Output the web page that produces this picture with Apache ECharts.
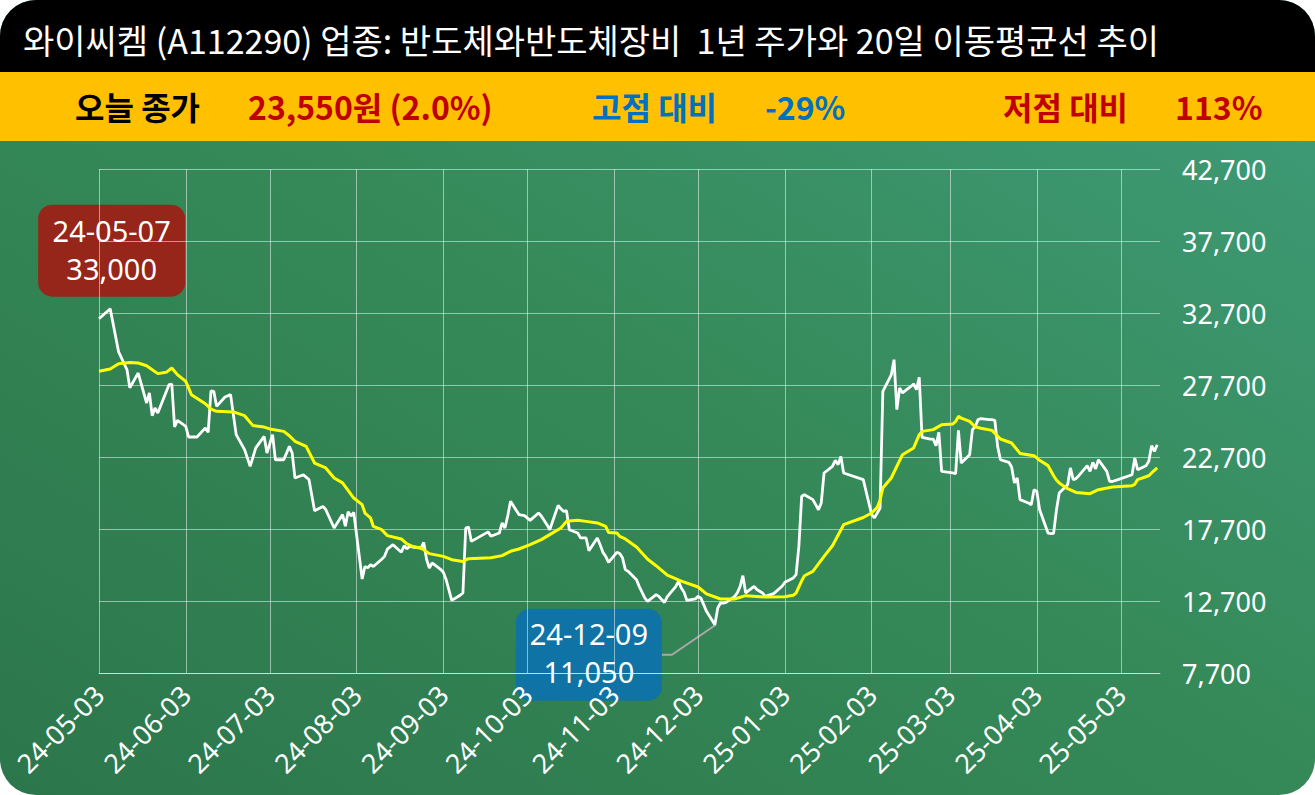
<!DOCTYPE html>
<html>
<head>
<meta charset="utf-8">
<script src="https://cdn.jsdelivr.net/npm/echarts@6/dist/echarts.min.js"></script>
<style>
html,body{margin:0;padding:0;background:#ffffff;}
#card{position:absolute;left:0;top:0;width:1315px;height:795px;border-radius:36px;overflow:hidden;
  background:linear-gradient(to top right,#2c764c 0%,#358958 50%,#3f9d7a 100%);}
#c{width:1315px;height:795px;}
</style>
</head>
<body>
<div id="card"><div id="c"></div></div>
<script>
// ---------------- DATA ----------------
const titleText = '와이씨켐 (A112290) 업종: 반도체와반도체장비  1년 주가와 20일 이동평균선 추이';
const headerLabels = ['오늘 종가', '23,550원 (2.0%)', '고점 대비', '-29%', '저점 대비', '113%'];

const tickDates = ['2024-05-03','2024-06-03','2024-07-03','2024-08-03','2024-09-03','2024-10-03','2024-11-03',
  '2024-12-03','2025-01-03','2025-02-03','2025-03-03','2025-04-03','2025-05-03'];
const tickLabels = ['24-05-03','24-06-03','24-07-03','24-08-03','24-09-03','24-10-03','24-11-03',
  '24-12-03','25-01-03','25-02-03','25-03-03','25-04-03','25-05-03'];
const axisStart = '2024-05-03';
const axisEnd = '2025-05-17';
const yMin = 7700, yMax = 42700, yStep = 5000;

const priceDates = [
'2024-05-03','2024-05-07','2024-05-10','2024-05-13','2024-05-14','2024-05-17','2024-05-20','2024-05-21','2024-05-22','2024-05-23',
'2024-05-24','2024-05-28','2024-05-29','2024-05-30','2024-05-31','2024-06-03','2024-06-04','2024-06-07','2024-06-10','2024-06-11',
'2024-06-12','2024-06-13','2024-06-14','2024-06-17','2024-06-19','2024-06-21','2024-06-24','2024-06-26','2024-06-28','2024-07-01',
'2024-07-02','2024-07-04','2024-07-05','2024-07-08','2024-07-10','2024-07-11','2024-07-12','2024-07-15','2024-07-17','2024-07-19',
'2024-07-22','2024-07-23','2024-07-26','2024-07-29','2024-07-30','2024-07-31','2024-08-01','2024-08-02','2024-08-05','2024-08-06',
'2024-08-07','2024-08-08','2024-08-09','2024-08-12','2024-08-13','2024-08-14','2024-08-16','2024-08-19','2024-08-20','2024-08-21',
'2024-08-22','2024-08-23','2024-08-26','2024-08-27','2024-08-28','2024-08-29','2024-08-30','2024-09-02','2024-09-03','2024-09-04',
'2024-09-06','2024-09-09','2024-09-10','2024-09-11','2024-09-12','2024-09-13','2024-09-19','2024-09-20','2024-09-23','2024-09-24',
'2024-09-25','2024-09-26','2024-09-27','2024-09-30','2024-10-02','2024-10-04','2024-10-07','2024-10-08','2024-10-10','2024-10-11',
'2024-10-14','2024-10-15','2024-10-16','2024-10-17','2024-10-18','2024-10-21','2024-10-22','2024-10-23','2024-10-24','2024-10-25',
'2024-10-28','2024-10-29','2024-10-30','2024-10-31','2024-11-01','2024-11-04','2024-11-05','2024-11-06','2024-11-07','2024-11-08',
'2024-11-11','2024-11-12','2024-11-13','2024-11-14','2024-11-15','2024-11-18','2024-11-19','2024-11-20','2024-11-21','2024-11-22',
'2024-11-25','2024-11-26','2024-11-27','2024-11-28','2024-11-29','2024-12-02','2024-12-03','2024-12-04','2024-12-05','2024-12-06',
'2024-12-09','2024-12-10','2024-12-11','2024-12-12','2024-12-13','2024-12-16','2024-12-17','2024-12-18','2024-12-19','2024-12-20',
'2024-12-23','2024-12-24','2024-12-26','2024-12-27','2024-12-30','2025-01-02','2025-01-03','2025-01-06','2025-01-07','2025-01-08',
'2025-01-09','2025-01-10','2025-01-13','2025-01-14','2025-01-15','2025-01-16','2025-01-17','2025-01-20','2025-01-21','2025-01-22',
'2025-01-23','2025-01-24','2025-01-31','2025-02-03','2025-02-04','2025-02-05','2025-02-06','2025-02-07','2025-02-10','2025-02-11',
'2025-02-12','2025-02-13','2025-02-14','2025-02-17','2025-02-18','2025-02-19','2025-02-20','2025-02-21','2025-02-24','2025-02-25',
'2025-02-26','2025-02-27','2025-02-28','2025-03-04','2025-03-05','2025-03-06','2025-03-07','2025-03-10','2025-03-11','2025-03-12',
'2025-03-13','2025-03-14','2025-03-17','2025-03-18','2025-03-19','2025-03-20','2025-03-21','2025-03-24','2025-03-25','2025-03-26',
'2025-03-27','2025-03-28','2025-03-31','2025-04-01','2025-04-02','2025-04-03','2025-04-04','2025-04-07','2025-04-08','2025-04-09',
'2025-04-10','2025-04-11','2025-04-14','2025-04-15','2025-04-16','2025-04-17','2025-04-18','2025-04-21','2025-04-22','2025-04-23',
'2025-04-24','2025-04-25','2025-04-28','2025-04-29','2025-04-30','2025-05-02','2025-05-07','2025-05-08','2025-05-09','2025-05-12',
'2025-05-13','2025-05-14','2025-05-15','2025-05-16'];
const priceValues = [
32300,33000,30000,28760,27500,28530,26450,27150,25570,26100,
25760,27720,27770,24790,25240,24830,24090,24090,24720,24410,
27300,27260,26220,26870,27030,24250,23210,22050,23330,24130,
22980,24250,22510,22510,23440,22980,21240,21470,21130,18970,
19270,19040,17770,18700,17900,18900,18600,18850,14230,15100,
15000,15220,15100,15600,15800,16300,16610,16080,16540,16330,
16490,16450,16380,16770,15600,14990,15340,14900,14700,14180,
12740,13100,13260,17770,17840,16840,17500,17200,17420,18120,
17770,18600,19620,18700,18630,18300,18810,18600,18000,17650,
19340,19100,18920,18970,17650,17420,17080,17080,17080,16190,
17080,16600,16080,15800,15380,16080,16000,15700,14880,14760,
14180,13700,13300,12900,12670,13140,13020,12800,12600,13000,
13700,14060,13600,13300,12740,12840,13020,12900,12450,11980,
11050,12200,12560,12560,12600,13000,13260,13700,14460,13260,
13720,13500,13260,13020,13210,13720,14000,14300,14530,16490,
19970,20080,19740,19390,19040,19510,21590,22050,22470,22170,
22740,21590,21130,18700,18470,18810,19160,27260,28400,29460,
25990,27490,27150,27600,27770,27380,28230,24060,23940,23940,
23480,24410,21700,21590,21540,24550,22280,22860,24600,24800,
25300,25360,25300,25290,25250,23440,22510,22330,22000,20900,
21240,19740,19500,19390,20430,20310,19040,17420,17380,17400,
19000,20200,20780,21940,21130,21200,21400,22100,21700,22330,
21870,22510,21700,21010,21000,21130,21470,22630,21820,22100,
22400,23490,23090,23550];

const maDates = [
'2024-05-03','2024-05-07','2024-05-10','2024-05-14','2024-05-17','2024-05-20','2024-05-24','2024-05-27','2024-05-29','2024-05-31',
'2024-06-03','2024-06-05','2024-06-10','2024-06-12','2024-06-14','2024-06-20','2024-06-24','2024-06-27','2024-07-01','2024-07-03',
'2024-07-08','2024-07-10','2024-07-12','2024-07-16','2024-07-19','2024-07-23','2024-07-26','2024-07-29','2024-08-02','2024-08-05',
'2024-08-06','2024-08-08','2024-08-09','2024-08-12','2024-08-14','2024-08-19','2024-08-21','2024-08-23','2024-08-26','2024-08-29',
'2024-09-03','2024-09-06','2024-09-10','2024-09-12','2024-09-20','2024-09-24','2024-09-27','2024-09-30','2024-10-04','2024-10-08',
'2024-10-11','2024-10-15','2024-10-17','2024-10-21','2024-10-24','2024-10-28','2024-10-31','2024-11-01','2024-11-04','2024-11-05',
'2024-11-07','2024-11-11','2024-11-15','2024-11-18','2024-11-22','2024-11-27','2024-12-03','2024-12-06','2024-12-11','2024-12-16',
'2024-12-20','2024-12-27','2025-01-03','2025-01-06','2025-01-07','2025-01-09','2025-01-10','2025-01-13','2025-01-17','2025-01-20',
'2025-01-24','2025-01-31','2025-02-03','2025-02-05','2025-02-06','2025-02-07','2025-02-10','2025-02-14','2025-02-18','2025-02-20',
'2025-02-21','2025-02-25','2025-02-28','2025-03-04','2025-03-05','2025-03-06','2025-03-07','2025-03-10','2025-03-12','2025-03-14',
'2025-03-18','2025-03-21','2025-03-25','2025-03-28','2025-04-02','2025-04-04','2025-04-07','2025-04-09','2025-04-10','2025-04-11',
'2025-04-14','2025-04-17','2025-04-22','2025-04-25','2025-04-30','2025-05-07','2025-05-08','2025-05-09','2025-05-13','2025-05-14',
'2025-05-16'];
const maValues = [
28650,28810,29180,29270,29230,29040,28490,28580,28880,28420,
27950,27030,26400,26030,25870,25830,25570,24880,24780,24650,
24480,24180,23790,23440,22280,21940,21240,20900,19850,19390,
18810,18470,17880,17650,17240,17010,16660,16490,16380,15990,
15800,15570,15450,15640,15710,15850,16150,16310,16610,16960,
17310,17770,18230,18300,18230,18120,17880,17460,17420,17190,
17010,16450,15600,15150,14500,14080,13670,13200,12840,12840,
13070,12980,13000,13100,13250,14100,14450,14760,15800,16540,
18000,18500,18810,19200,19700,20550,21240,22860,23330,24250,
24480,24600,24940,24990,25170,25520,25400,25170,24790,24700,
24550,23950,23670,22950,22790,22470,22100,21400,21100,20900,
20500,20240,20150,20430,20620,20710,20800,21130,21400,21590,
21940];

const highPoint = { date: '2024-05-07', value: 33000 };
const lowPoint = { date: '2024-12-09', value: 11050 };

// ---------------- CHART ----------------
const KR = "'Noto Sans CJK KR', 'Noto Sans', sans-serif";
const NUM = "'Noto Sans', 'DejaVu Sans', sans-serif";
const GRID_COLOR = 'rgba(255,255,255,0.5)';

function ts(s) { const p = s.split('-').map(Number); return Date.UTC(p[0], p[1] - 1, p[2]); }
function fmtNum(v) { return String(Math.round(v)).replace(/\B(?=(\d{3})+(?!\d))/g, ','); }
const tickTs = tickDates.map(ts);

const chart = echarts.init(document.getElementById('c'), null, { renderer: 'svg' });

chart.setOption({
  animation: false,
  backgroundColor: 'transparent',
  grid: { left: 99, right: 155, top: 169, bottom: 122 },
  xAxis: {
    type: 'value',
    z: 2,
    min: ts(axisStart),
    max: ts(axisEnd),
    axisLine: { show: true, lineStyle: { color: GRID_COLOR, width: 1 } },
    axisTick: { show: false, customValues: tickTs },
    axisLabel: {
      customValues: tickTs,
      showMinLabel: true,
      showMaxLabel: true,
      hideOverlap: false,
      rotate: 45,
      margin: 17,
      color: '#ffffff',
      fontFamily: NUM,
      fontSize: 27,
      formatter: function (v) {
        let best = 0, bd = Infinity;
        tickTs.forEach(function (t, i) { const d = Math.abs(t - v); if (d < bd) { bd = d; best = i; } });
        return tickLabels[best];
      }
    },
    splitLine: { show: true, lineStyle: { color: GRID_COLOR, width: 1 } }
  },
  yAxis: {
    type: 'value',
    z: 2,
    position: 'right',
    min: yMin,
    max: yMax,
    interval: yStep,
    axisLine: { show: false },
    axisTick: { show: false },
    axisLabel: { color: '#ffffff', fontFamily: NUM, fontSize: 27, margin: 22, formatter: fmtNum },
    splitLine: { show: true, lineStyle: { color: GRID_COLOR, width: 1 } }
  },
  series: [
    {
      name: '주가', type: 'line', symbol: 'none', z: 3,
      lineStyle: { color: '#ffffff', width: 2.8 },
      data: priceDates.map(function (d, i) { return [ts(d), priceValues[i]]; })
    },
    {
      name: '20일 이동평균', type: 'line', symbol: 'none', z: 4,
      lineStyle: { color: '#ffff00', width: 3 },
      data: maDates.map(function (d, i) { return [ts(d), maValues[i]]; })
    }
  ]
});

// ---------- header / annotations ----------
const hp = chart.convertToPixel({ gridIndex: 0 }, [ts(highPoint.date), highPoint.value]);
const lp = chart.convertToPixel({ gridIndex: 0 }, [ts(lowPoint.date), lowPoint.value]);

const hiBox = { x: hp[0] - 72, y: hp[1] - 104, w: 147, h: 92 };
const loBox = { x: lp[0] - 199, y: lp[1] - 16, w: 146, h: 92 };

function headerText(txt, x, color) {
  return { type: 'text', x: x, y: 106, z: 20,
    style: { text: txt, fill: color, fontFamily: KR, fontSize: 32, fontWeight: 'bold', verticalAlign: 'middle', align: 'left' } };
}

chart.setOption({
  graphic: [
    { type: 'rect', shape: { x: 0, y: 0, width: 1315, height: 72 }, style: { fill: '#000000' }, z: 10 },
    { type: 'rect', shape: { x: 0, y: 72, width: 1315, height: 69 }, style: { fill: '#ffc000' }, z: 10 },
    { type: 'text', x: 23, y: 39, z: 20,
      style: { text: titleText, fill: '#ffffff', fontFamily: KR, fontSize: 34, fontWeight: 'normal', verticalAlign: 'middle', align: 'left' } },
    headerText(headerLabels[0], 75, '#000000'),
    headerText(headerLabels[1], 248, '#c00000'),
    headerText(headerLabels[2], 592, '#0070c0'),
    headerText(headerLabels[3], 765, '#0070c0'),
    headerText(headerLabels[4], 1003, '#c00000'),
    headerText(headerLabels[5], 1175, '#c00000'),
    // high annotation
    { type: 'rect', z: 1, shape: { x: hiBox.x, y: hiBox.y, width: hiBox.w, height: hiBox.h, r: 14 },
      style: { fill: 'rgba(158,30,22,0.93)' } },
    { type: 'text', z: 31, x: hiBox.x + hiBox.w / 2, y: hiBox.y + 26,
      style: { text: highPoint.date.slice(2), fill: '#ffffff', fontFamily: NUM, fontSize: 29, align: 'center', verticalAlign: 'middle' } },
    { type: 'text', z: 31, x: hiBox.x + hiBox.w / 2, y: hiBox.y + 64,
      style: { text: fmtNum(highPoint.value), fill: '#ffffff', fontFamily: NUM, fontSize: 29, align: 'center', verticalAlign: 'middle' } },
    // low annotation
    { type: 'polyline', z: 1, shape: { points: [[lp[0] + 1, lp[1]], [lp[0] - 43, lp[1] + 30], [loBox.x + loBox.w, lp[1] + 30]] },
      style: { stroke: '#a8a8a8', lineWidth: 2, fill: 'none' } },
    { type: 'rect', z: 1, shape: { x: loBox.x, y: loBox.y, width: loBox.w, height: loBox.h, r: 14 },
      style: { fill: 'rgba(14,114,170,0.94)' } },
    { type: 'text', z: 31, x: loBox.x + loBox.w / 2, y: loBox.y + 25,
      style: { text: lowPoint.date.slice(2), fill: '#ffffff', fontFamily: NUM, fontSize: 29, align: 'center', verticalAlign: 'middle' } },
    { type: 'text', z: 31, x: loBox.x + loBox.w / 2, y: loBox.y + 63,
      style: { text: fmtNum(lowPoint.value), fill: '#ffffff', fontFamily: NUM, fontSize: 29, align: 'center', verticalAlign: 'middle' } }
  ]
});
</script>
</body>
</html>
